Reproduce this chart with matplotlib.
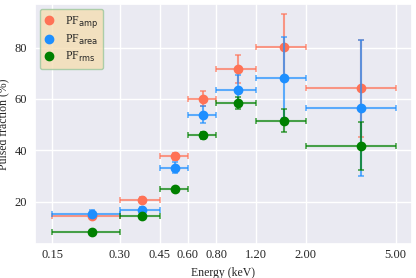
import numpy as np
import matplotlib
matplotlib.use("Agg")
import matplotlib.pyplot as plt
import seaborn as sns
from matplotlib.ticker import FixedLocator, FormatStrFormatter, NullLocator

sns.set_theme(style="darkgrid")
plt.rcParams['font.family'] = ['Liberation Serif', 'DejaVu Sans']
plt.rcParams['mathtext.fontset'] = 'dejavusans'

#------------------------------------------------------------------#
# energy bins (keV) and pulsed fractions (%)
#------------------------------------------------------------------#
e_lo = [0.15, 0.30, 0.45, 0.60, 0.80, 1.20, 2.00]
e_hi = [0.30, 0.45, 0.60, 0.80, 1.20, 2.00, 5.00]
e_mid = [0.225, 0.375, 0.525, 0.70, 1.00, 1.60, 3.50]

pf_amp = [14.4, 20.8, 37.6, 60.0, 71.6, 80.1, 64.1]
amp_err = [1.0, 1.2, 1.5, 2.9, 5.4, 12.8, 19.0]
pf_area = [15.4, 16.6, 33.3, 53.9, 63.3, 68.3, 56.5]
area_err = [1.2, 1.5, 2.3, 3.3, 6.1, 15.8, 26.6]
pf_rms = [8.1, 14.5, 24.8, 45.9, 58.3, 51.6, 41.8]
rms_err = [0.6, 0.8, 1.0, 1.4, 2.4, 4.6, 9.4]

xticks = [0.15, 0.30, 0.45, 0.60, 0.80, 1.20, 2.00, 5.00]

series = [(pf_amp, amp_err, '#FF7256', r'PF$_{\rm amp}$'),
          (pf_area, area_err, '#1E8FFF', r'PF$_{\rm area}$'),
          (pf_rms, rms_err, 'green', r'PF$_{\rm rms}$')]

e_mid_a = np.array(e_mid)
xerr = [e_mid_a - np.array(e_lo), np.array(e_hi) - e_mid_a]

fig = plt.figure(figsize=(4.16, 2.78), dpi=100)
ax = fig.add_axes([0.084, 0.122, 0.906, 0.864])

for pf, err, col, lab in series:
    ax.errorbar(e_mid, pf, yerr=err, xerr=xerr, fmt='none', ecolor=col,
                elinewidth=1.5, capsize=2.5, capthick=1.2, alpha=0.7)
    ax.plot(e_mid, pf, 'o', color=col, ms=6, label=lab)

ax.set_xscale('log')
ax.set_xlim(0.126, 5.9)
ax.set_ylim(3.5, 97)
ax.xaxis.set_major_locator(FixedLocator(xticks))
ax.xaxis.set_major_formatter(FormatStrFormatter('%.2f'))
ax.xaxis.set_minor_locator(NullLocator())
ax.set_yticks([20, 40, 60, 80])
ax.tick_params(length=0)
ax.tick_params(axis='x', labelsize=9, pad=3.5)
ax.tick_params(axis='y', labelsize=9, pad=5.5)
ax.set_xlabel('Energy (keV)', fontsize=8.5)
ax.set_ylabel('Pulsed fraction (%)', fontsize=8.5)
ax.xaxis.set_label_coords(0.5, -0.095)
ax.yaxis.set_label_coords(-0.068, 0.5)

leg = ax.legend(loc='upper left', fontsize=8.5, facecolor='wheat',
                edgecolor='#9CC79C', framealpha=0.8, handletextpad=1.1,
                borderpad=0.45, labelspacing=0.25, handlelength=0.6,
                borderaxespad=0.4)

plt.savefig('out.png', dpi=100)
